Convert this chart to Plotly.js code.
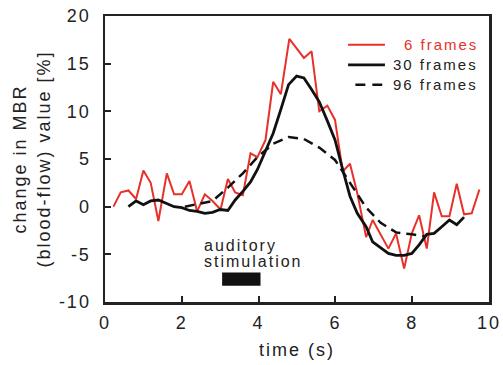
<!DOCTYPE html>
<html><head><meta charset="utf-8">
<script src="https://cdn.plot.ly/plotly-3.0.1.min.js"></script>
<style>body{margin:0;background:#fff}#chart{width:503px;height:365px}
svg text{letter-spacing:2px}</style>
</head><body><div id="chart"></div>
<script>
// 6 frames (red)
const t6 = [0.22,0.41,0.61,0.81,1.00,1.19,1.39,1.61,1.80,2.00,2.20,2.40,2.60,2.80,3.01,3.20,3.39,3.59,3.79,3.97,4.18,4.38,4.58,4.80,4.99,5.18,5.38,5.58,5.79,5.99,6.19,6.38,6.57,6.80,6.97,7.18,7.38,7.58,7.79,7.99,8.18,8.38,8.57,8.77,8.97,9.16,9.35,9.55,9.75];
const v6 = [0.0,1.5,1.7,0.8,3.8,2.5,-1.5,3.5,1.3,1.3,2.7,-0.5,1.3,0.6,-0.3,2.9,1.5,1.2,5.6,5.2,7.0,13.1,11.8,17.6,16.6,15.6,16.3,10.0,10.6,9.1,3.7,4.5,1.4,-3.2,-1.4,-2.9,-4.4,-2.8,-6.5,-2.8,-0.9,-4.4,1.5,-1.0,-1.0,2.4,-0.8,-0.7,1.8];
// 30 frames (black solid)
const t30 = [0.61,0.81,1.00,1.19,1.39,1.60,1.80,2.00,2.20,2.40,2.60,2.80,3.00,3.20,3.39,3.59,3.79,3.97,4.18,4.38,4.58,4.78,4.99,5.18,5.38,5.58,5.79,5.99,6.19,6.38,6.57,6.80,6.97,7.18,7.38,7.58,7.79,7.99,8.18,8.38,8.57,8.77,8.97,9.16,9.35];
const v30 = [0.0,0.6,0.2,0.6,0.7,0.3,0.0,-0.1,-0.4,-0.5,-0.7,-0.6,-0.3,-0.4,0.7,1.6,2.6,3.9,5.8,7.7,10.2,12.8,13.7,13.5,12.3,11.0,9.0,7.0,3.9,1.1,-0.7,-2.1,-3.7,-4.3,-4.9,-5.1,-5.1,-4.9,-4.0,-2.9,-2.8,-2.1,-1.4,-1.9,-1.1];
// 96 frames (black dashed)
const t96 = [2.08,2.40,2.80,3.20,3.59,3.97,4.38,4.78,5.18,5.58,5.99,6.38,6.80,7.18,7.58,7.99,8.31];
const v96 = [0.0,0.3,0.6,2.0,3.5,5.2,6.6,7.3,7.1,6.2,4.9,2.5,-0.1,-1.7,-2.7,-2.9,-3.1];
// stimulation period
const stimTime = [3.05, 4.05];
const stimLevel = [-6.9, -8.3];
const stimLabelLines = ['auditory', 'stimulation'];
const seriesNames = ['6 frames', '30 frames', '96 frames'];

const xTicks = [0,2,4,6,8,10];
const yTicks = [-10,-5,0,5,10,15,20];

const FONT = 'Liberation Sans, Arial, sans-serif';
const RED = '#e8302a';
const INK = '#111';
const colors = [RED, INK, INK];
const dashes = ['solid', 'solid', '10px,6px'];
const widths = [2, 2.8, 2.5];
const series = [[t6, v6], [t30, v30], [t96, v96]];

const traces = series.map((s, i) => ({x:s[0], y:s[1], mode:'lines', name:seriesNames[i],
  line:{color:colors[i], width:widths[i], dash:dashes[i]}}));

const axisCommon = {showgrid:false, zeroline:false, showline:true, linecolor:'#222', linewidth:2.5,
  mirror:true, ticks:'inside', ticklen:6, tickwidth:2, tickcolor:'#222',
  tickfont:{family:FONT, size:18, color:'#222'}};

// manual legend (paper coordinates)
const legRows = [0.8995, 0.829, 0.7595];
const legX0 = [0.633, 0.633, 0.652];
const legX1 = [0.729, 0.729, 0.722];
const legDash = ['solid', 'solid', '10px,7px'];
const shapes = [{type:'rect', xref:'x', yref:'y', x0:stimTime[0], x1:stimTime[1], y0:stimLevel[0], y1:stimLevel[1],
    fillcolor:INK, line:{width:0}}];
const annotations = [
  {x:2.53, y:-4.1, xref:'x', yref:'y', xanchor:'left', text:stimLabelLines[0], showarrow:false,
    font:{family:FONT, size:16, color:'#222'}},
  {x:2.53, y:-5.8, xref:'x', yref:'y', xanchor:'left', text:stimLabelLines[1], showarrow:false,
    font:{family:FONT, size:16, color:'#222'}}
];
seriesNames.forEach((n, i) => {
  shapes.push({type:'line', xref:'paper', yref:'paper', x0:legX0[i], x1:legX1[i], y0:legRows[i], y1:legRows[i],
    line:{color:colors[i], width:widths[i], dash:legDash[i]}});
  annotations.push({x:0.977, y:legRows[i], xref:'paper', yref:'paper', xanchor:'right', yanchor:'middle',
    text:n, showarrow:false, font:{family:FONT, size:15, color:i === 0 ? RED : '#222'}});
});

const layout = {
  width:503, height:365, margin:{l:105, r:14, t:16, b:63},
  paper_bgcolor:'#fff', plot_bgcolor:'#fff',
  font:{family:FONT, color:'#222'},
  showlegend:false,
  xaxis:Object.assign({}, axisCommon, {range:[0,10], tickvals:xTicks, ticktext:xTicks.map(String),
    ticklabelstandoff:3,
    title:{text:'time (s)', font:{family:FONT, size:18, color:'#222'}, standoff:12}}),
  yaxis:Object.assign({}, axisCommon, {range:[-10,20], tickvals:yTicks, ticktext:yTicks.map(String),
    ticklabelstandoff:8,
    title:{text:'change in MBR<br>(blood-flow) value [%]', font:{family:FONT, size:18, color:'#222'}, standoff:4}}),
  shapes:shapes,
  annotations:annotations
};
Plotly.newPlot('chart', traces, layout, {displayModeBar:false, staticPlot:true});
</script></body></html>
